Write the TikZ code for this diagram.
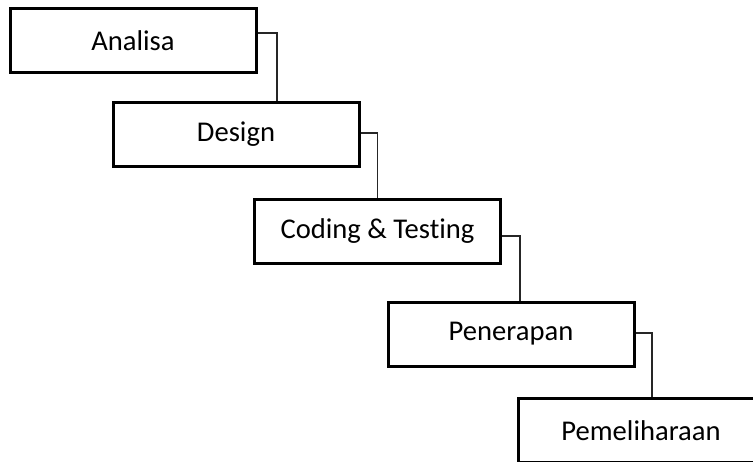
\documentclass[tikz,border=0pt]{standalone}
\usepackage{fontspec}
\setmainfont{Carlito}[Ligatures={NoCommon}]

\begin{document}
\begin{tikzpicture}[x=0.5pt, y=-0.5pt,
    tahap/.style={draw, line width=1.5pt, fill=white, rectangle, minimum width=123pt, minimum height=32pt, inner sep=0pt, font=\fontsize{14.3}{17}\selectfont},
    garis/.style={draw=black!85, line width=0.6pt}]
        \clip (0, 0) rectangle (753, 461);
        \node[tahap] (A) at (133, 40.5) {Analisa};
        \node[tahap] (B) at (236, 134) {Design};
        \node[tahap] (C) at (377.5, 231.5) {Coding \& Testing};
        \node[tahap] (D) at (511, 334) {Penerapan};
        \node[tahap] (E) at (641, 430.5) {Pemeliharaan};
        
        \draw[garis] ([yshift=3.75pt]A.east) -| ([xshift=20.5pt]B.north);
        \draw[garis] ([yshift=0.5pt]B.east) -| (C.north);
        \draw[garis] ([yshift=-2.25pt]C.east) -| ([xshift=4.5pt]D.north);
        \draw[garis] ([yshift=0.5pt]D.east) -| ([xshift=5.5pt]E.north);
    \end{tikzpicture}
\end{document}
